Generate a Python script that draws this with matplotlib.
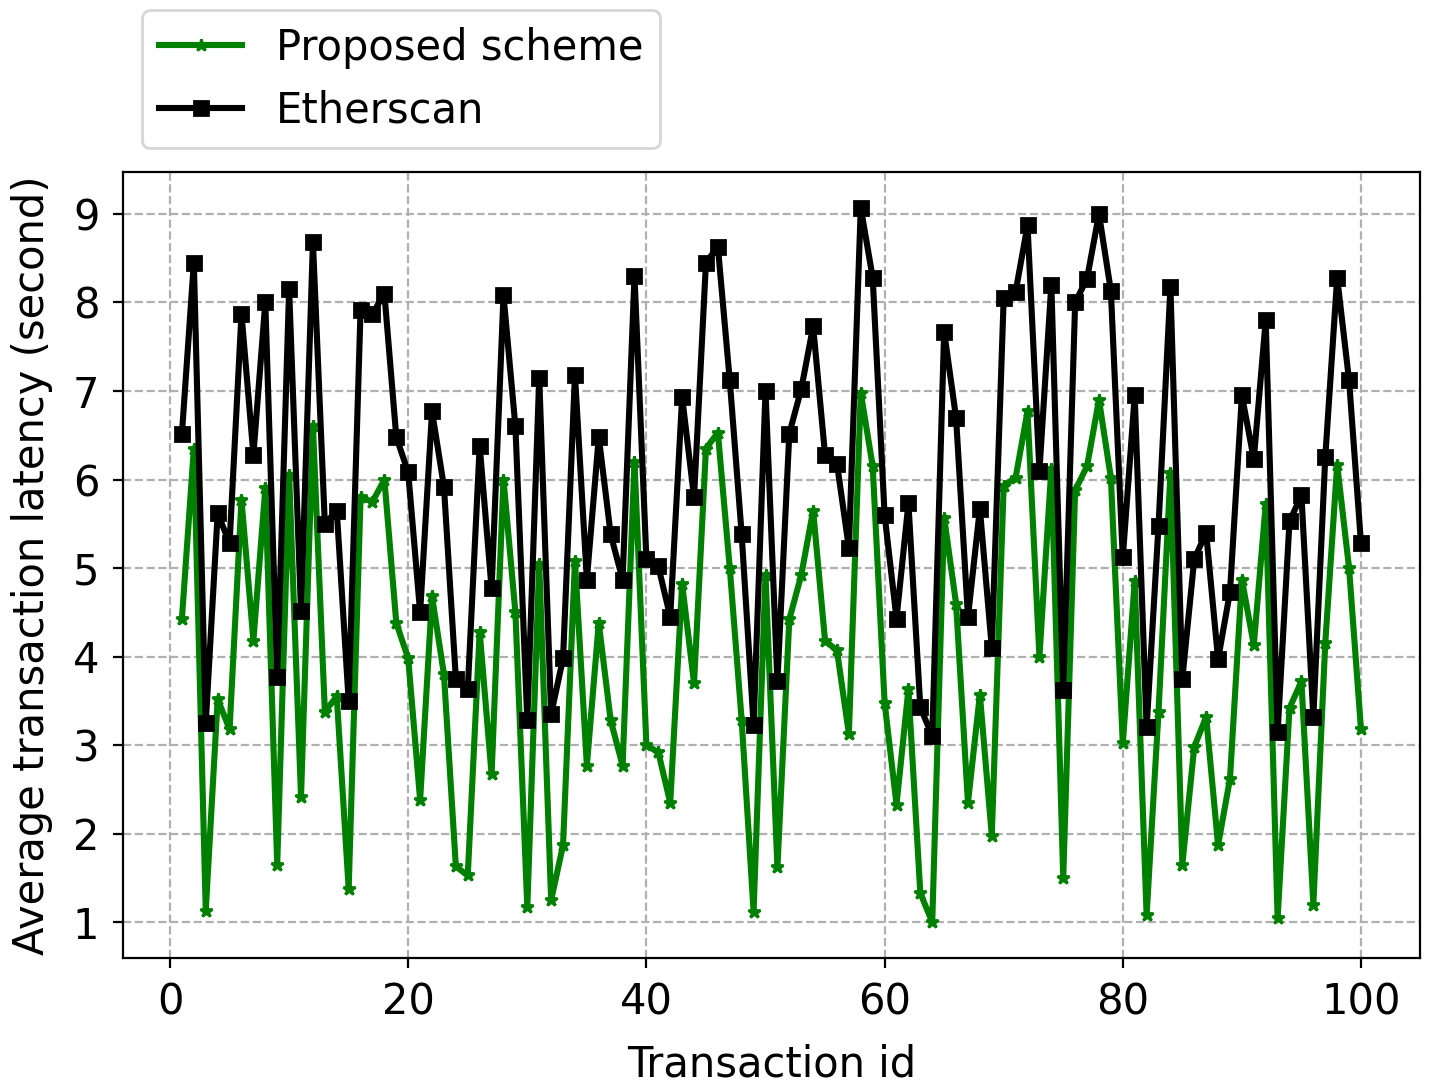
import matplotlib
matplotlib.use("Agg")
import matplotlib.pyplot as plt
import numpy as np

tx_id = np.arange(1, 101)

# Etherscan latency (s)
etherscan = [6.52, 8.45, 3.25, 5.62, 5.28, 7.87, 6.28, 8.00, 3.77, 8.15,
             4.52, 8.68, 5.50, 5.65, 3.50, 7.92, 7.87, 8.10, 6.48, 6.08,
             4.50, 6.77, 5.92, 3.75, 3.63, 6.38, 4.77, 8.08, 6.60, 3.28,
             7.15, 3.35, 3.98, 7.18, 4.87, 6.48, 5.38, 4.87, 8.30, 5.10,
             5.02, 4.45, 6.93, 5.80, 8.45, 8.63, 7.12, 5.38, 3.23, 7.00,
             3.72, 6.52, 7.02, 7.73, 6.28, 6.18, 5.23, 9.07, 8.28, 5.60,
             4.43, 5.73, 3.43, 3.10, 7.67, 6.70, 4.45, 5.67, 4.10, 8.05,
             8.12, 8.87, 6.10, 8.20, 3.62, 8.00, 8.27, 9.00, 8.13, 5.12,
             6.95, 3.20, 5.48, 8.17, 3.75, 5.10, 5.40, 3.97, 4.73, 6.95,
             6.23, 7.80, 3.15, 5.53, 5.82, 3.32, 6.25, 8.28, 7.12, 5.28]

# proposed scheme latency (s)
proposed = [4.43, 6.35, 1.13, 3.52, 3.18, 5.77, 4.18, 5.90, 1.65, 6.05,
            2.42, 6.60, 3.38, 3.55, 1.38, 5.80, 5.75, 6.00, 4.38, 3.98,
            2.38, 4.68, 3.80, 1.63, 1.53, 4.28, 2.67, 6.00, 4.50, 1.17,
            5.05, 1.25, 1.87, 5.08, 2.77, 4.38, 3.28, 2.77, 6.20, 3.00,
            2.92, 2.35, 4.82, 3.70, 6.35, 6.53, 5.00, 3.28, 1.12, 4.92,
            1.62, 4.42, 4.92, 5.65, 4.18, 4.07, 3.13, 6.98, 6.15, 3.48,
            2.33, 3.63, 1.33, 1.00, 5.57, 4.60, 2.35, 3.57, 1.98, 5.93,
            6.02, 6.77, 4.00, 6.12, 1.50, 5.88, 6.15, 6.90, 6.02, 3.02,
            4.85, 1.08, 3.38, 6.07, 1.65, 2.98, 3.32, 1.87, 2.62, 4.87,
            4.13, 5.72, 1.05, 3.42, 3.72, 1.20, 4.15, 6.17, 5.00, 3.18]

fig = plt.figure(figsize=(7.175, 5.46), dpi=200)
ax = fig.add_axes([0.0857, 0.1227, 0.9038, 0.7198])

ax.plot(tx_id, proposed, color="green", marker="*", markersize=4.5, lw=2.2,
        label="Proposed scheme")
ax.plot(tx_id, etherscan, color="black", marker="s", markersize=5, lw=2.2,
        label="Etherscan")

ax.grid(True, linestyle="--", color="#b0b0b0", lw=0.8)
ax.set_xlabel("Transaction id", fontsize=15, labelpad=7)
ax.set_ylabel("Average transaction latency (second)", fontsize=15, labelpad=7)
ax.tick_params(labelsize=15, pad=5)
ax.set_yticks(range(1, 10))

ax.legend(loc="lower left", bbox_to_anchor=(0.015, 1.03), fontsize=15,
          borderaxespad=0)

fig.savefig("out.png", dpi=200)
